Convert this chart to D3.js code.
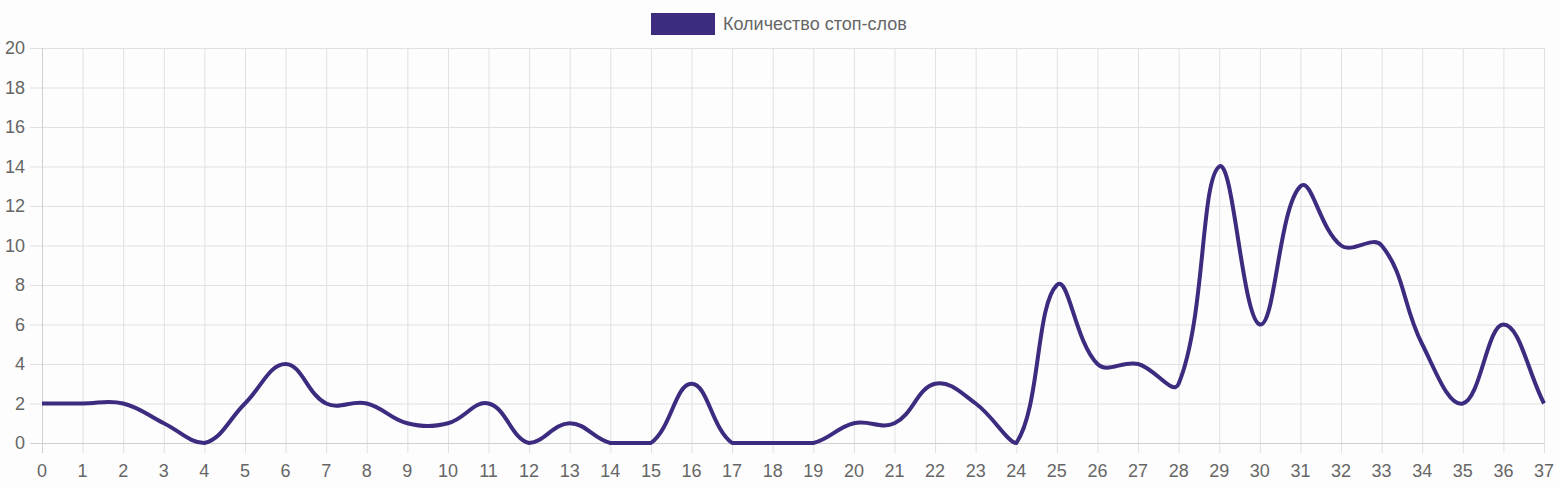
<!DOCTYPE html>
<html>
<head>
<meta charset="utf-8">
<script src="https://cdn.jsdelivr.net/npm/d3@7"></script>
<style>
  html, body { margin: 0; padding: 0; background: #fdfdfd; }
  svg { display: block; font-family: "Liberation Sans", Arial, sans-serif; }
</style>
</head>
<body>
<div id="chart"></div>
<script>
(function () {

const [WIDTH, HEIGHT] = [1560, 487];

const categories = d3.range(0, 38);
const stopWords = [2, 2, 2, 1, 0, 2, 4, 2, 2, 1, 1, 2, 0, 1, 0, 0, 3, 0, 0, 0,
    1, 1, 3, 2, 0, 8, 4, 4, 3, 14, 6, 13, 10, 10, 5, 2, 6, 2];
const yTicks = [0, 2, 4, 6, 8, 10, 12, 14, 16, 18, 20];
const seriesName = 'Количество стоп-слов';

const LINE_COLOR = '#3d2b7f';
const GRID_COLOR = '#e1e0e3';
const TEXT_COLOR = '#666';
const FONT_SIZE = 18;

const area = { left: 42, right: 1544, top: 48, bottom: 443 };

const x = d3.scaleLinear()
    .domain([0, categories.length - 1])
    .range([area.left, area.right]);

const y = d3.scaleLinear()
    .domain([0, 20])
    .range([area.bottom, area.top]);

const svg = d3.select('#chart').append('svg')
    .attr('width', WIDTH)
    .attr('height', HEIGHT)
    .attr('viewBox', `0 0 ${WIDTH} ${HEIGHT}`);

// grid
svg.append('g')
    .selectAll('line')
    .data(yTicks)
    .join('line')
    .attr('x1', area.left - 12)
    .attr('x2', area.right)
    .attr('y1', (d) => y(d) + 0.5)
    .attr('y2', (d) => y(d) + 0.5)
    .attr('stroke', GRID_COLOR)
    .attr('stroke-width', 1);

svg.append('g')
    .selectAll('line')
    .data(categories)
    .join('line')
    .attr('x1', (d) => x(d) + 0.5)
    .attr('x2', (d) => x(d) + 0.5)
    .attr('y1', area.top)
    .attr('y2', area.bottom + 10)
    .attr('stroke', GRID_COLOR)
    .attr('stroke-width', 1);

// axis lines slightly darker
svg.append('line')
    .attr('x1', area.left + 0.5).attr('x2', area.left + 0.5)
    .attr('y1', area.top).attr('y2', area.bottom + 10)
    .attr('stroke', '#d0d0d0');
svg.append('line')
    .attr('x1', area.left - 12).attr('x2', area.right)
    .attr('y1', area.bottom + 0.5).attr('y2', area.bottom + 0.5)
    .attr('stroke', '#d0d0d0');

// tick labels
svg.append('g')
    .selectAll('text')
    .data(yTicks)
    .join('text')
    .attr('x', area.left - 17)
    .attr('y', (d) => y(d))
    .attr('dy', '0.35em')
    .attr('text-anchor', 'end')
    .attr('font-size', FONT_SIZE)
    .attr('fill', TEXT_COLOR)
    .text((d) => d);

svg.append('g')
    .selectAll('text')
    .data(categories)
    .join('text')
    .attr('x', (d) => x(d))
    .attr('y', area.bottom + 34)
    .attr('text-anchor', 'middle')
    .attr('font-size', FONT_SIZE)
    .attr('fill', TEXT_COLOR)
    .text((d) => d);

// chart.js-like spline (tension 0.4) with control points capped to the area
function splinePath(pts, tension) {
    const cps = pts.map((p, i) => {
        const prev = pts[i - 1] || p;
        const next = pts[i + 1] || p;
        const d01 = Math.hypot(p[0] - prev[0], p[1] - prev[1]);
        const d12 = Math.hypot(next[0] - p[0], next[1] - p[1]);
        let s01 = d01 / (d01 + d12);
        let s12 = d12 / (d01 + d12);
        s01 = isNaN(s01) ? 0 : s01;
        s12 = isNaN(s12) ? 0 : s12;
        const fa = tension * s01;
        const fb = tension * s12;
        const cap = (v, lo, hi) => Math.max(lo, Math.min(hi, v));
        return {
            prev: [cap(p[0] - fa * (next[0] - prev[0]), area.left, area.right),
                   cap(p[1] - fa * (next[1] - prev[1]), area.top, area.bottom)],
            next: [cap(p[0] + fb * (next[0] - prev[0]), area.left, area.right),
                   cap(p[1] + fb * (next[1] - prev[1]), area.top, area.bottom)],
        };
    });
    const path = d3.path();
    path.moveTo(pts[0][0], pts[0][1]);
    for (let i = 1; i < pts.length; i++) {
        const a = cps[i - 1].next;
        const b = cps[i].prev;
        path.bezierCurveTo(a[0], a[1], b[0], b[1], pts[i][0], pts[i][1]);
    }
    return path.toString();
}

const points = categories.map((c, i) => [x(c), y(stopWords[i])]);

svg.append('path')
    .attr('d', splinePath(points, 0.4))
    .attr('fill', 'none')
    .attr('stroke', LINE_COLOR)
    .attr('stroke-width', 4)
    .attr('stroke-linejoin', 'round');

// legend
const legend = svg.append('g');
legend.append('rect')
    .attr('x', 651)
    .attr('y', 13)
    .attr('width', 64)
    .attr('height', 22)
    .attr('fill', LINE_COLOR);
legend.append('text')
    .attr('x', 723)
    .attr('y', 24)
    .attr('dy', '0.35em')
    .attr('font-size', FONT_SIZE)
    .attr('fill', TEXT_COLOR)
    .text(seriesName);

})();
</script>
</body>
</html>
